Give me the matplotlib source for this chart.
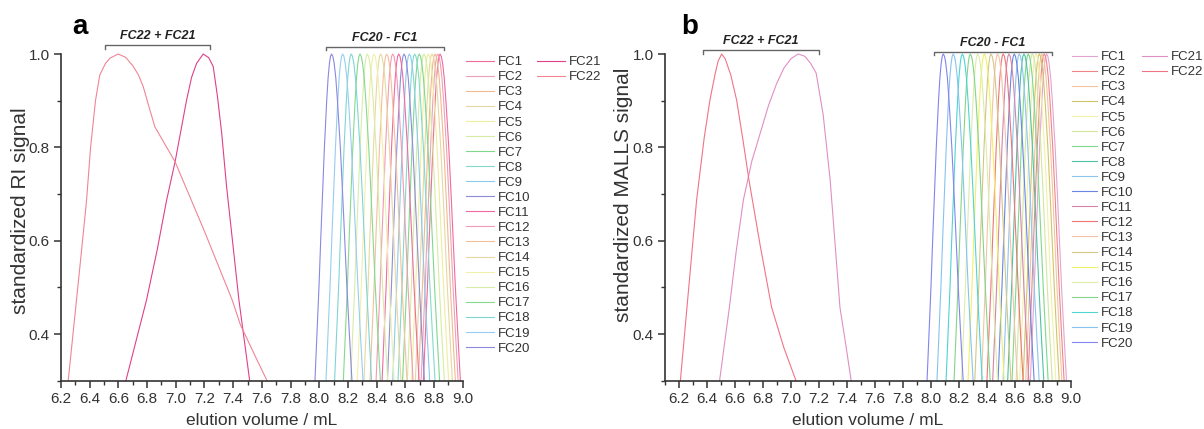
import matplotlib
matplotlib.use("Agg")
from matplotlib import pyplot as plt
from matplotlib.ticker import MultipleLocator, FormatStrFormatter

plt.rcParams["font.family"] = ["Liberation Sans", "DejaVu Sans"]

# ---- data ----
fractions = ["FC%d" % i for i in range(1, 23)]

# apex positions (mL) of the narrow fractions FC1..FC20
apex_ri = [8.842, 8.826, 8.807, 8.786, 8.760, 8.730, 8.697, 8.665, 8.628, 8.591,
           8.554, 8.512, 8.470, 8.428, 8.381, 8.335, 8.284, 8.223, 8.163, 8.086]
apex_malls = [8.826, 8.809, 8.793, 8.774, 8.750, 8.724, 8.695, 8.664, 8.631, 8.595,
              8.557, 8.516, 8.476, 8.429, 8.381, 8.334, 8.281, 8.224, 8.159, 8.088]

# shared peak profile of the narrow fractions (offset from apex, signal level)
prof_level = [0.3, 0.4, 0.5, 0.6, 0.7, 0.8, 0.9, 0.95, 0.98, 0.995, 1.0]
prof_left = [-0.116, -0.102, -0.088, -0.076, -0.063, -0.050, -0.034, -0.024, -0.015, -0.0075, 0.0]
prof_right = [0.142, 0.124, 0.107, 0.092, 0.077, 0.061, 0.041, 0.029, 0.018, 0.009, 0.0]

# broad fractions, RI
fc22_ri_x = [6.25, 6.30, 6.34, 6.378, 6.406, 6.44, 6.47, 6.51, 6.541, 6.598, 6.65, 6.70,
             6.74, 6.773, 6.81, 6.854, 6.995, 7.2, 7.393, 7.45, 7.55, 7.636]
fc22_ri_y = [0.30, 0.45, 0.57, 0.687, 0.80, 0.90, 0.955, 0.98, 0.991, 1.0, 0.993, 0.975,
             0.955, 0.93, 0.89, 0.844, 0.769, 0.62, 0.473, 0.42, 0.355, 0.30]
fc21_ri_x = [6.652, 6.796, 6.87, 6.936, 6.995, 7.075, 7.11, 7.145, 7.191, 7.23, 7.261,
             7.29, 7.32, 7.354, 7.44, 7.515]
fc21_ri_y = [0.30, 0.473, 0.58, 0.687, 0.769, 0.901, 0.95, 0.98, 1.0, 0.992, 0.973,
             0.91, 0.83, 0.716, 0.473, 0.30]

# broad fractions, MALLS
fc22_ma_x = [6.21, 6.27, 6.326, 6.38, 6.421, 6.46, 6.48, 6.505, 6.53, 6.57, 6.612, 6.66,
             6.70, 6.78, 6.862, 6.95, 7.036]
fc22_ma_y = [0.30, 0.50, 0.687, 0.82, 0.901, 0.96, 0.985, 1.0, 0.99, 0.955, 0.901, 0.81,
             0.73, 0.59, 0.457, 0.37, 0.30]
fc21_ma_x = [6.49, 6.56, 6.61, 6.66, 6.72, 6.78, 6.84, 6.898, 6.95, 7.0, 7.052, 7.10,
             7.14, 7.18, 7.23, 7.28, 7.35, 7.39, 7.43]
fc21_ma_y = [0.30, 0.457, 0.58, 0.687, 0.77, 0.83, 0.89, 0.937, 0.97, 0.99, 1.0, 0.995,
             0.98, 0.959, 0.87, 0.73, 0.457, 0.38, 0.30]

colors_ri = ["#f06a9e", "#eba2b6", "#f3b98e", "#e6d7a2", "#eeee9e", "#d6eca2",
             "#7fd98c", "#84d9cc", "#8ccbeb", "#8c8cd9",
             "#f06aa0", "#f29ab2", "#f3c09c", "#e8d7a0", "#f2f0a8", "#d9eca8",
             "#86d98e", "#7fd5d5", "#96cdf0", "#8a88e0",
             "#e0408a", "#f08595"]
colors_malls = ["#e3a3d3", "#f08484", "#f3c3a0", "#d3c366", "#f0f0a8", "#d3e6a0",
                "#7fd98a", "#4ec3a3", "#8cc6ee", "#6a85e3",
                "#d684a8", "#f07474", "#f2c4a6", "#d5c685", "#f2f066", "#dcedaa",
                "#86d486", "#4fd3d3", "#86c3f0", "#8484f0",
                "#e08fc3", "#f07486"]


def narrow_peak(apex):
    xs = [apex + d for d in prof_left] + [apex + d for d in prof_right[::-1]][1:]
    ys = prof_level + prof_level[::-1][1:]
    return xs, ys


def draw_panel(ax, apexes, c22, c21, colors, xlim, ylabel, ylab_y,
               brackets, leg1_anchor, leg2_anchor, handlelen):
    handles = []
    for i, a in enumerate(apexes):
        xs, ys = narrow_peak(a)
        h, = ax.plot(xs, ys, color=colors[i], lw=0.8, label=fractions[i], clip_on=False)
        handles.append(h)
    h21, = ax.plot(c21[0], c21[1], color=colors[20], lw=0.8, label="FC21", clip_on=False)
    h22, = ax.plot(c22[0], c22[1], color=colors[21], lw=0.8, label="FC22", clip_on=False)

    ax.set_xlim(*xlim)
    ax.set_ylim(0.3, 1.0)
    ax.xaxis.set_major_locator(MultipleLocator(0.2))
    ax.xaxis.set_minor_locator(MultipleLocator(0.1))
    ax.set_yticks([0.4, 0.6, 0.8, 1.0])
    ax.yaxis.set_minor_locator(MultipleLocator(0.1))
    ax.xaxis.set_major_formatter(FormatStrFormatter("%.1f"))
    ax.yaxis.set_major_formatter(FormatStrFormatter("%.1f"))
    for s in ["top", "right"]:
        ax.spines[s].set_visible(False)
    for s in ["left", "bottom"]:
        ax.spines[s].set_color("#333333")
        ax.spines[s].set_linewidth(1.2)
    ax.tick_params(which="major", length=5, width=1.1, color="#333333",
                   labelsize=11, labelcolor="#333333", pad=3)
    ax.tick_params(which="minor", length=3, width=1.0, color="#333333")
    ax.set_xlabel("elution volume / mL", fontsize=12.5, color="#333333")
    ax.xaxis.set_label_coords(0.5, -0.098)
    ax.set_ylabel(ylabel, fontsize=15, color="#333333")
    ax.yaxis.set_label_coords(-0.078, ylab_y)

    for (x0, x1, yb, txt) in brackets:
        ax.plot([x0, x0, x1, x1], [yb - 0.008, yb, yb, yb - 0.008],
                color="#666666", lw=1.0, clip_on=False)
        ax.text((x0 + x1) / 2, yb + 0.006, txt, ha="center", va="bottom",
                fontsize=9, fontweight="bold", fontstyle="italic", color="#222222")

    opts = dict(loc="upper left", bbox_transform=ax.figure.transFigure, frameon=False,
                fontsize=9.5, labelspacing=0.215, handlelength=handlelen,
                handletextpad=0.3, borderpad=0, borderaxespad=0)
    leg1 = ax.legend(handles, fractions[:20], bbox_to_anchor=leg1_anchor, **opts)
    for t in leg1.get_texts():
        t.set_color("#333333")
    ax.add_artist(leg1)
    leg2 = ax.legend([h21, h22], ["FC21", "FC22"], bbox_to_anchor=leg2_anchor, **opts)
    for t in leg2.get_texts():
        t.set_color("#333333")


fig = plt.figure(figsize=(12.04, 4.29), dpi=100)
ax_a = fig.add_axes([0.0507, 0.1126, 0.3336, 0.7615])
ax_b = fig.add_axes([0.5523, 0.1126, 0.3372, 0.7615])

draw_panel(ax_a, apex_ri, (fc22_ri_x, fc22_ri_y), (fc21_ri_x, fc21_ri_y), colors_ri,
           (6.2, 9.0), "standardized RI signal", 0.52,
           [(6.505, 7.238, 1.019, "FC22 + FC21"), (8.044, 8.869, 1.016, "FC20 - FC1")],
           (466 / 1204, 1 - 56 / 429), (537 / 1204, 1 - 56 / 429), 2.1)
draw_panel(ax_b, apex_malls, (fc22_ma_x, fc22_ma_y), (fc21_ma_x, fc21_ma_y), colors_malls,
           (6.1, 9.0), "standardized MALLS signal", 0.57,
           [(6.369, 7.2, 1.009, "FC22 + FC21"), (8.024, 8.862, 1.005, "FC20 - FC1")],
           (1072 / 1204, 1 - 51 / 429), (1142 / 1204, 1 - 51 / 429), 1.9)

fig.text(80 / 1204, 1 - 27 / 429, "a", fontsize=20, fontweight="bold", ha="center", va="center")
fig.text(690 / 1204, 1 - 27 / 429, "b", fontsize=20, fontweight="bold", ha="center", va="center")

fig.savefig("out.png", dpi=100)
